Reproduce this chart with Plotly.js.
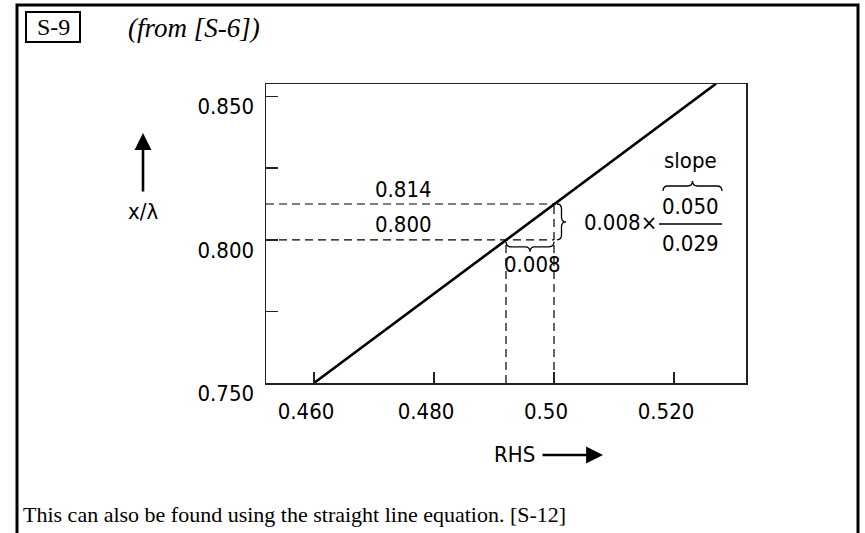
<!DOCTYPE html>
<html><head><meta charset="utf-8">
<script src="https://cdn.plot.ly/plotly-3.0.1.min.js"></script>
<style>html,body{margin:0;padding:0;background:#fff}</style>
</head><body><div id="chart" style="width:865px;height:533px"></div>
<script>
// ---- data ----
const lineX = [0.460, 0.527];
const lineY = [0.750, 0.8545];
const markX = [0.492, 0.500];      // RHS at the two marked points
const markY = [0.800, 0.8125];     // x/lambda at the two marked points
const markLabels = ['0.800', '0.814'];
const xTickVals = [0.46, 0.48, 0.50, 0.52];
const xTickText = ['0.460', '0.480', '0.50', '0.520'];
const yTickVals = [0.750, 0.775, 0.800, 0.825, 0.850];
const yTickText = ['0.750', '', '0.800', '', '0.850'];
const deltaLabel = '0.008';
const slopeNum = '0.050', slopeDen = '0.029';
const xRange = [0.452, 0.532];
const yRange = [0.750, 0.8544];

// ---- layout geometry ----
const L = 266, T = 84, PW = 480, PH = 299;
const SANS = '"DejaVu Sans Condensed", "Liberation Sans Narrow", Roboto, sans-serif';
const SERIF = '"Liberation Serif", "DejaVu Serif", serif';
const px2x = p => xRange[0] + (p - L) / PW * (xRange[1] - xRange[0]);
const py2y = p => yRange[0] + (T + PH - p) / PH * (yRange[1] - yRange[0]);
const x2px = v => L + (v - xRange[0]) / (xRange[1] - xRange[0]) * PW;
const y2py = v => T + PH - (v - yRange[0]) / (yRange[1] - yRange[0]) * PH;
const pxp = p => (p - L) / PW;
const pyp = p => (T + PH - p) / PH;

function pt(px, py) { return px2x(px).toFixed(6) + ',' + py2y(py).toFixed(6); }
// horizontal brace from x1..x2 at y0, tip offset h (pixels, +down)
function hBrace(x1, x2, y0, h) {
  const m = (x1 + x2) / 2, r = 5, yh = y0 + h / 2;
  return 'M' + pt(x1, y0) + ' Q' + pt(x1, yh) + ' ' + pt(x1 + r, yh) +
    ' L' + pt(m - r, yh) + ' Q' + pt(m, yh) + ' ' + pt(m, y0 + h) +
    ' Q' + pt(m, yh) + ' ' + pt(m + r, yh) + ' L' + pt(x2 - r, yh) +
    ' Q' + pt(x2, yh) + ' ' + pt(x2, y0);
}
function vBrace(y1, y2, x0, w) {
  const m = (y1 + y2) / 2, r = 5, xh = x0 + w / 2;
  return 'M' + pt(x0, y1) + ' Q' + pt(xh, y1) + ' ' + pt(xh, y1 + r) +
    ' L' + pt(xh, m - r) + ' Q' + pt(xh, m) + ' ' + pt(x0 + w, m) +
    ' Q' + pt(xh, m) + ' ' + pt(xh, m + r) + ' L' + pt(xh, y2 - r) +
    ' Q' + pt(xh, y2) + ' ' + pt(x0, y2);
}

const traces = [
  {x: lineX, y: lineY, mode: 'lines', line: {color: '#000', width: 2.6}, hoverinfo: 'skip'},
  {x: [xRange[0], markX[1], null, xRange[0], markX[1]],
   y: [markY[0], markY[0], null, markY[1], markY[1]],
   mode: 'lines', line: {color: '#000', width: 1.2, dash: '8px,5px'}, hoverinfo: 'skip'},
  {x: [markX[0], markX[0], null, markX[1], markX[1]],
   y: [yRange[0], markY[0], null, yRange[0], markY[1]],
   mode: 'lines', line: {color: '#000', width: 1.2, dash: '8px,5px'}, hoverinfo: 'skip'}
];

const bx1 = x2px(markX[0]), bx2 = x2px(markX[1]);
const by1 = y2py(markY[1]), by2 = y2py(markY[0]);

const shapes = [
  // outer page frame
  {type: 'rect', xref: 'paper', yref: 'paper', x0: pxp(17), x1: pxp(858), y0: pyp(560), y1: pyp(5),
   line: {color: '#000', width: 3}},
  // S-9 box
  {type: 'rect', xref: 'paper', yref: 'paper', x0: pxp(26), x1: pxp(80), y0: pyp(42), y1: pyp(12),
   line: {color: '#000', width: 2}},
  // braces
  {type: 'path', xref: 'x', yref: 'y', path: hBrace(bx1, bx2, by2 + 2, 10), line: {color: '#000', width: 1.3}},
  {type: 'path', xref: 'x', yref: 'y', path: vBrace(by1, by2, bx2 + 3, 9), line: {color: '#000', width: 1.3}},
  {type: 'path', xref: 'x', yref: 'y', path: hBrace(663, 722, 191, -10), line: {color: '#000', width: 1.3}},
  // fraction bar
  {type: 'line', xref: 'paper', yref: 'paper', x0: pxp(659), x1: pxp(722), y0: pyp(224), y1: pyp(224),
   line: {color: '#000', width: 1.3}}
];

const f = (s) => ({family: SANS, size: s, color: '#000'});
const ann = (txt, px, py, xa, size, font) => ({
  text: txt, xref: 'paper', yref: 'paper', x: pxp(px), y: pyp(py),
  xanchor: xa || 'center', yanchor: 'middle', showarrow: false, font: font || f(size || 22)
});

const annotations = [
  ann(markLabels[1], 403, 189),
  ann(markLabels[0], 403, 224),
  ann(deltaLabel, 532, 264),
  ann('0.008\u00d7', 659, 222, 'right'),
  ann(slopeNum, 690, 206),
  ann(slopeDen, 690, 243),
  ann('slope', 690, 160),
  ann('x/\u03bb', 143, 211),
  ann('RHS', 537, 454, 'right'),
  ann('S-9', 53, 27, 'center', 24, {family: SERIF, size: 24, color: '#000'}),
  ann('<i>(from [S-6])</i>', 126, 28, 'left', 27, {family: SERIF, size: 27, color: '#000'}),
  ann('This can also be found using the straight line equation. [S-12]', 21, 514, 'left', 22,
      {family: SERIF, size: 22, color: '#000'}),
  // arrows
  {text: '', xref: 'paper', yref: 'paper', x: pxp(143), y: pyp(133), ax: 0, ay: 60,
   showarrow: true, arrowhead: 2, arrowsize: 1.3, arrowwidth: 2.6, arrowcolor: '#000'},
  {text: '', xref: 'paper', yref: 'paper', x: pxp(603), y: pyp(455), ax: -62, ay: 0,
   showarrow: true, arrowhead: 2, arrowsize: 1.3, arrowwidth: 2.6, arrowcolor: '#000'}
];

const axisCommon = {
  showgrid: false, zeroline: false, showline: true, mirror: true,
  linecolor: '#222', linewidth: 1.5, ticks: 'inside', tickcolor: '#222', tickwidth: 1.5,
  tickfont: f(22), tickmode: 'array', fixedrange: true
};

const layout = {
  width: 865, height: 533,
  margin: {l: L, r: 865 - L - PW, t: T, b: 533 - T - PH, pad: 0},
  paper_bgcolor: '#fff', plot_bgcolor: '#fff', showlegend: false,
  xaxis: Object.assign({}, axisCommon, {range: xRange, tickvals: xTickVals, ticktext: xTickText,
    ticklen: 11, ticklabelstandoff: 8, ticklabelshift: -8}),
  yaxis: Object.assign({}, axisCommon, {range: yRange, tickvals: yTickVals, ticktext: yTickText,
    ticklen: 12, ticklabelstandoff: 6, ticklabelshift: 10}),
  shapes: shapes, annotations: annotations
};

Plotly.newPlot('chart', traces, layout, {displayModeBar: false, staticPlot: true});
</script></body></html>
